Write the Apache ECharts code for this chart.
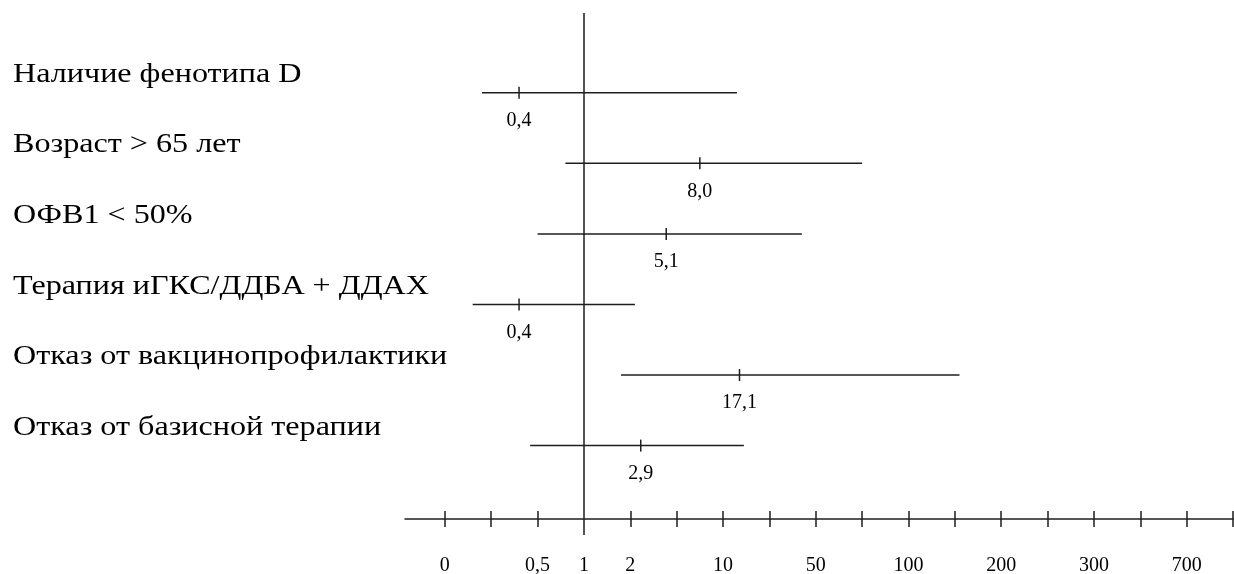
<!DOCTYPE html>
<html>
<head>
<meta charset="utf-8">
<script src="https://cdn.jsdelivr.net/npm/echarts@6/dist/echarts.min.js"></script>
<style>
  html, body { margin: 0; padding: 0; background: #fff; }
  #chart { width: 1234px; height: 574px; }
</style>
</head>
<body>
<div id="chart"></div>
<script>
// Risk factors (rows, top to bottom)
const factors = [
  'Наличие фенотипа D',
  'Возраст > 65 лет',
  'ОФВ1 < 50%',
  'Терапия иГКС/ДДБА + ДДАХ',
  'Отказ от вакцинопрофилактики',
  'Отказ от базисной терапии'
];
// Odds ratios and their confidence bounds
const oddsRatio = [0.4, 8.0, 5.1, 0.4, 17.1, 2.9];
const ciLower   = [0.2, 0.8, 0.5, 0.15, 1.8, 0.46];
const ciUpper   = [16, 75, 44, 2.4, 155, 19];

// Axis scale: labelled values and the tick slot each one sits on
const tickLabels = ['0', '0,5', '1', '2', '10', '50', '100', '200', '300', '700'];
const tickValues = [0, 0.5, 1, 2, 10, 50, 100, 200, 300, 700];
const tickSlots  = [0, 2, 3, 4, 6, 8, 10, 12, 14, 16];
const slotCount  = 18;
const refValue   = 1;

// map a value onto the slot scale (piecewise linear between labelled ticks)
function toSlot(v) {
  for (let i = 0; i < tickValues.length - 1; i++) {
    const a = tickValues[i], b = tickValues[i + 1];
    if (v <= b) {
      return tickSlots[i] + (v - a) / (b - a) * (tickSlots[i + 1] - tickSlots[i]);
    }
  }
  const n = tickValues.length - 1;
  return tickSlots[n] + (v - tickValues[n]) / (tickValues[n] - tickValues[n - 1]) * (tickSlots[n] - tickSlots[n - 1]);
}

const allSlots = Array.from({ length: slotCount }, (_, i) => i);
const refSlot = toSlot(refValue);
const minorSlots = allSlots.filter(s => s !== refSlot);

const data = factors.map((_, i) => [toSlot(ciLower[i]), toSlot(oddsRatio[i]), toSlot(ciUpper[i]), i]);

const INK = '#1e1e1e';
const SERIF = '"Liberation Serif", "DejaVu Serif", serif';
const X_MIN = -0.86, X_MAX = slotCount - 1;

function fmt(v) { return v.toFixed(1).replace('.', ','); }

function baseX(extra) {
  return Object.assign({
    type: 'value', position: 'bottom', min: X_MIN, max: X_MAX,
    axisLine: { show: false, onZero: false },
    axisLabel: { show: false },
    splitLine: { show: false }
  }, extra);
}

const chart = echarts.init(document.getElementById('chart'), null, { renderer: 'canvas' });
chart.setOption({
  animation: false,
  backgroundColor: '#fff',
  grid: { left: 405, right: 1, top: 13, bottom: 55, containLabel: false, outerBoundsMode: 'none' },
  xAxis: [
    baseX({
      axisLine: { show: true, onZero: false, lineStyle: { color: INK, width: 1.5 } },
      axisTick: { show: true, inside: false, length: 8, customValues: minorSlots, lineStyle: { color: INK, width: 1.5 } },
      axisLabel: {
        show: true, customValues: tickSlots, margin: 37,
        fontFamily: SERIF, fontSize: 20, color: '#000',
        formatter: v => {
          const k = tickSlots.findIndex(s => Math.abs(s - v) < 1e-6);
          return k >= 0 ? tickLabels[k] : '';
        }
      }
    }),
    baseX({ axisTick: { show: true, inside: true, length: 8, customValues: minorSlots, lineStyle: { color: INK, width: 1.5 } } }),
    // reference line at 1, running up through the plot
    baseX({ axisTick: { show: true, inside: true, length: 506, customValues: [refSlot], lineStyle: { color: INK, width: 1.5 } } }),
    baseX({ axisTick: { show: true, inside: false, length: 16, customValues: [refSlot], lineStyle: { color: INK, width: 1.5 } } })
  ],
  yAxis: {
    type: 'value', inverse: true, min: -1.13, max: 6.04,
    axisLine: { show: false, onZero: false },
    axisTick: { show: false },
    axisLabel: { show: false },
    splitLine: { show: false }
  },
  series: [
    {
      // factor names, set above each row at the left edge
      type: 'custom',
      clip: false,
      xAxisIndex: 0, yAxisIndex: 0,
      encode: { y: 0 },
      data: factors.map((_, i) => [i]),
      renderItem: function (params, api) {
        const p = api.coord([X_MIN, api.value(0)]);
        return {
          type: 'text', x: p[0] - 392, y: p[1] - 18, scaleX: 1.19,
          style: {
            text: factors[params.dataIndex],
            fontFamily: SERIF, fontSize: 27, fill: '#000',
            align: 'left', verticalAlign: 'middle'
          }
        };
      }
    },
    {
      type: 'custom',
      xAxisIndex: 0, yAxisIndex: 0,
      encode: { x: [0, 1, 2], y: 3 },
      data: data,
      renderItem: function (params, api) {
        const row = api.value(3);
        const lo = api.coord([api.value(0), row]);
        const est = api.coord([api.value(1), row]);
        const hi = api.coord([api.value(2), row]);
        const stroke = { stroke: INK, lineWidth: 1.5 };
        return {
          type: 'group',
          children: [
            { type: 'line', shape: { x1: lo[0], y1: lo[1], x2: hi[0], y2: hi[1] }, style: stroke },
            { type: 'line', shape: { x1: est[0], y1: est[1] - 6, x2: est[0], y2: est[1] + 6 }, style: stroke },
            {
              type: 'text', x: est[0], y: est[1] + 28,
              style: {
                text: fmt(oddsRatio[params.dataIndex]),
                fontFamily: SERIF, fontSize: 20, fill: '#000',
                align: 'center', verticalAlign: 'middle'
              }
            }
          ]
        };
      }
    }
  ]
});
</script>
</body>
</html>
